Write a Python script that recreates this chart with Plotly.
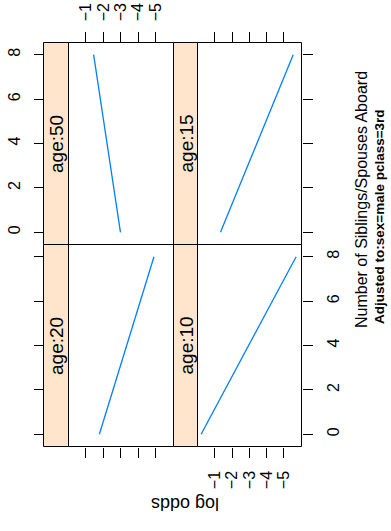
import plotly.graph_objects as go

# Fitted log odds of survival against number of siblings/spouses aboard,
# one straight line per age level (evaluated at the ends of the sibsp range).
sibsp = [0, 8]
log_odds_age50 = [-2.98, -1.44]
log_odds_age15 = [-1.33, -5.54]
log_odds_age20 = [-1.77, -4.90]
log_odds_age10 = [-0.21, -5.71]

strip_labels = ["age:50", "age:15", "age:20", "age:10"]
logodds_ticks = [-1, -2, -3, -4, -5]
sibsp_ticks = [0, 2, 4, 6, 8]

x_title = "Number of Siblings/Spouses Aboard"
x_subtitle = "Adjusted to:sex=male pclass=3rd"
y_title = "log odds"

# ---- page geometry (pixels) ----
W, H = 391, 531
BOX_L = 43.5
COL_STRIP = [(43.5, 68.5), (173.5, 197.5)]
COL_DATA = [(68.5, 173.5), (197.5, 301.5)]
ROWS = [(42.5, 244.5), (244.5, 446.5)]

STRIP_FILL = "#FFE5CC"
LINE_BLUE = "#0080FF"
FONT = "Liberation Sans, Arial, Helvetica, sans-serif"
XRANGE = [0.0, -6.02]
YRANGE = [-0.55, 8.55]


def fx(px):
    return px / W


def fy(py):
    return 1 - py / H


fig = go.Figure()

panels = [
    # (row, col, values)
    (0, 0, log_odds_age50),
    (0, 1, log_odds_age15),
    (1, 0, log_odds_age20),
    (1, 1, log_odds_age10),
]

shapes = []
annotations = []

for i, (r, c, vals) in enumerate(panels):
    n = "" if i == 0 else str(i + 1)
    xa, ya = "x" + n, "y" + n
    fig.add_trace(go.Scatter(
        x=vals, y=sibsp, mode="lines",
        line=dict(color=LINE_BLUE, width=1.3),
        xaxis=xa, yaxis=ya, showlegend=False, hoverinfo="skip",
    ))

    x0, x1 = COL_DATA[c]
    y0, y1 = ROWS[r]
    top_row = r == 0
    left_col = c == 0
    labelled = (top_row and left_col) or (not top_row and not left_col)

    # log-odds axis: ticks on outer edges, labels alternate (top-left / bottom-right)
    xaxis = dict(
        domain=[fx(x0), fx(x1)], range=XRANGE, anchor=ya,
        side="top" if top_row else "bottom",
        tickmode="array", tickvals=logodds_ticks,
        ticks="outside", ticklen=10, tickwidth=1, tickcolor="#000000",
        showticklabels=labelled,
        tickangle=-90, ticklabelstandoff=7,
        tickfont=dict(family=FONT, size=16, color="#000000"),
        showgrid=False, zeroline=False, showline=False, fixedrange=True,
    )
    # sibsp axis: on the outer left of the strip, or the right edge
    yaxis = dict(
        domain=[fy(y1), fy(y0)], range=YRANGE,
        tickmode="array", tickvals=sibsp_ticks,
        ticks="outside", ticklen=10, tickwidth=1, tickcolor="#000000",
        showticklabels=labelled,
        tickangle=-90, ticklabelstandoff=7,
        tickfont=dict(family=FONT, size=16, color="#000000"),
        showgrid=False, zeroline=False, showline=False, fixedrange=True,
    )
    if left_col:
        yaxis.update(anchor="free", position=fx(BOX_L), side="left")
    else:
        yaxis.update(anchor=xa, side="right")

    fig.layout["xaxis" + n] = xaxis
    fig.layout["yaxis" + n] = yaxis

    # strip
    s0, s1 = COL_STRIP[c]
    shapes.append(dict(type="rect", xref="paper", yref="paper",
                       x0=fx(s0), x1=fx(s1), y0=fy(y1), y1=fy(y0),
                       fillcolor=STRIP_FILL, line=dict(color="#000000", width=1),
                       layer="below"))
    annotations.append(dict(text=strip_labels[i], xref="paper", yref="paper",
                            x=fx((s0 + s1) / 2 + 0.5), y=fy((y0 + y1) / 2),
                            textangle=-90, showarrow=False,
                            xanchor="center", yanchor="middle",
                            font=dict(family=FONT, size=19, color="#000000")))
    # panel frame
    shapes.append(dict(type="rect", xref="paper", yref="paper",
                       x0=fx(x0), x1=fx(x1), y0=fy(y1), y1=fy(y0),
                       line=dict(color="#000000", width=1), layer="above"))

# axis titles
annotations.append(dict(text=x_title, xref="paper", yref="paper",
                        x=fx(362), y=fy(200), textangle=-90, showarrow=False,
                        xanchor="center", yanchor="middle",
                        font=dict(family=FONT, size=16, color="#000000")))
annotations.append(dict(text="<b>" + x_subtitle + "</b>", xref="paper", yref="paper",
                        x=fx(379), y=fy(217), textangle=-90, showarrow=False,
                        xanchor="center", yanchor="middle",
                        font=dict(family=FONT, size=13.5, color="#000000")))
annotations.append(dict(text=y_title, xref="paper", yref="paper",
                        x=fx(185), y=fy(504), textangle=180, showarrow=False,
                        xanchor="center", yanchor="middle",
                        font=dict(family=FONT, size=18, color="#000000")))

fig.update_layout(
    width=W, height=H, autosize=False,
    margin=dict(l=0, r=0, t=0, b=0),
    paper_bgcolor="#FFFFFF", plot_bgcolor="rgba(0,0,0,0)",
    shapes=shapes, annotations=annotations,
)

fig.write_html("out.html")
